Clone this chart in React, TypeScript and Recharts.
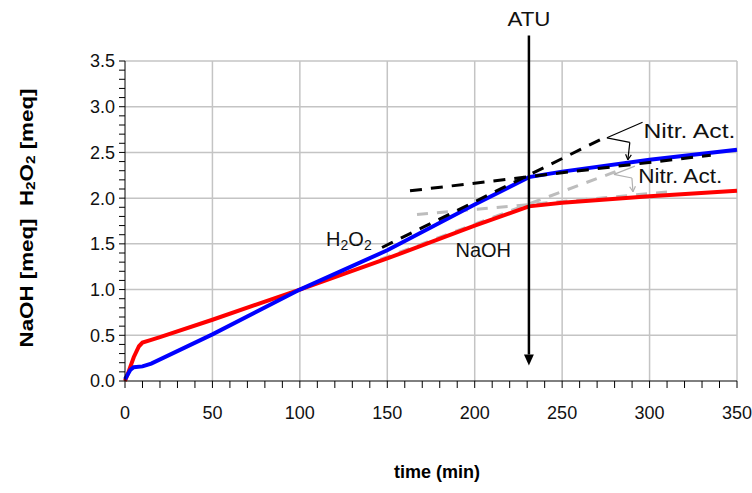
import React from 'react';
import { LineChart, Line, XAxis, YAxis, CartesianGrid, ReferenceLine, ReferenceDot, Label } from 'recharts';

// measured series (time in min, meq)
const naoh = [
  { t: 0, v: 0 }, { t: 2, v: 0.1 }, { t: 5, v: 0.26 }, { t: 8, v: 0.38 }, { t: 10, v: 0.42 },
  { t: 15, v: 0.45 }, { t: 20, v: 0.48 }, { t: 50, v: 0.67 }, { t: 100, v: 1.0 },
  { t: 150, v: 1.34 }, { t: 200, v: 1.7 }, { t: 231, v: 1.91 }, { t: 250, v: 1.95 },
  { t: 300, v: 2.02 }, { t: 350, v: 2.08 },
];
const h2o2 = [
  { t: 0, v: 0.02 }, { t: 3, v: 0.12 }, { t: 5, v: 0.15 }, { t: 10, v: 0.16 }, { t: 15, v: 0.19 },
  { t: 50, v: 0.51 }, { t: 100, v: 1.0 }, { t: 150, v: 1.43 }, { t: 200, v: 1.93 },
  { t: 231, v: 2.23 }, { t: 250, v: 2.29 }, { t: 300, v: 2.42 }, { t: 350, v: 2.53 },
];

// tangent lines before / after ATU
const h2o2After = [{ t: 163, v: 2.08 }, { t: 335, v: 2.47 }];
const h2o2Before = [{ t: 147, v: 1.46 }, { t: 274, v: 2.66 }];
const naohAfter = [{ t: 167, v: 1.82 }, { t: 312, v: 2.07 }];
const naohBefore = [{ t: 146, v: 1.33 }, { t: 282, v: 2.3 }];

const xTicks = [0, 10, 20, 30, 40, 50, 60, 70, 80, 90, 100, 110, 120, 130, 140, 150, 160, 170, 180,
  190, 200, 210, 220, 230, 240, 250, 260, 270, 280, 290, 300, 310, 320, 330, 340, 350];
const yTicks = [0, 0.1, 0.2, 0.3, 0.4, 0.5, 0.6, 0.7, 0.8, 0.9, 1.0, 1.1, 1.2, 1.3, 1.4, 1.5, 1.6,
  1.7, 1.8, 1.9, 2.0, 2.1, 2.2, 2.3, 2.4, 2.5, 2.6, 2.7, 2.8, 2.9, 3.0, 3.1, 3.2, 3.3, 3.4, 3.5];
const xGrid = [50, 100, 150, 200, 250, 300, 350];
const yGrid = [0.5, 1.0, 1.5, 2.0, 2.5, 3.0, 3.5];

const atuTime = 231;
const atuTop = 3.78;
const atuBottom = 0.17;

// pointers of the "Nitr. Act." notes
const upperNote = [[296, 2.83], [275.6, 2.66], [288.7, 2.61], [287.6, 2.42]];
const lowerNote = [[291.6, 2.35], [279.6, 2.26], [289.9, 2.22], [290.5, 2.07]];

const font = '"Liberation Sans", Arial, sans-serif';

const Arrow = (props: any) => {
  const { x1, y1, x2, y2, stroke, w = 2.5, head = 11 } = props;
  const ang = Math.atan2(y2 - y1, x2 - x1);
  const hw = head * 0.45;
  const bx = x2 - head * Math.cos(ang);
  const by = y2 - head * Math.sin(ang);
  const px = -Math.sin(ang) * hw;
  const py = Math.cos(ang) * hw;
  return (
    <g>
      <line x1={x1} y1={y1} x2={bx} y2={by} stroke={stroke} strokeWidth={w} />
      <polygon points={`${x2},${y2} ${bx + px},${by + py} ${bx - px},${by - py}`} fill={stroke} />
    </g>
  );
};

const segShape = (stroke: string, arrow: boolean) => (p: any) => {
  const s = p.segment || [];
  const x1 = p.x1 ?? s[0]?.x, y1 = p.y1 ?? s[0]?.y, x2 = p.x2 ?? s[1]?.x, y2 = p.y2 ?? s[1]?.y;
  if (arrow) {
    const ang = Math.atan2(y2 - y1, x2 - x1);
    const h = 6;
    return (
      <g>
        <line x1={x1} y1={y1} x2={x2} y2={y2} stroke={stroke} strokeWidth={1.2} />
        <line x1={x2} y1={y2} x2={x2 - h * Math.cos(ang - 0.5)} y2={y2 - h * Math.sin(ang - 0.5)} stroke={stroke} strokeWidth={1.2} />
        <line x1={x2} y1={y2} x2={x2 - h * Math.cos(ang + 0.5)} y2={y2 - h * Math.sin(ang + 0.5)} stroke={stroke} strokeWidth={1.2} />
      </g>
    );
  }
  return <line x1={x1} y1={y1} x2={x2} y2={y2} stroke={stroke} strokeWidth={1.2} />;
};

const noteSegments = (pts: number[][], stroke: string, key: string) =>
  pts.slice(1).map((p, i) => (
    <ReferenceLine
      key={`${key}${i}`}
      segment={[{ x: pts[i][0], y: pts[i][1] }, { x: p[0], y: p[1] }]}
      ifOverflow="visible"
      shape={segShape(stroke, i === pts.length - 2)}
    />
  ));

const textShape = (content: React.ReactNode, anchor = 'start', size = 20, len?: number) => (p: any) => (
  <text
    x={p.cx}
    y={p.cy}
    textAnchor={anchor}
    dominantBaseline="central"
    fontFamily={font}
    fontSize={size}
    fill="#111"
    textLength={len}
    lengthAdjust={len ? 'spacingAndGlyphs' : undefined}
  >
    {content}
  </text>
);

const fmtX = (v: number) => (v % 50 === 0 ? String(v) : '');
const fmtY = (v: number) => (Math.round(v * 10) % 5 === 0 ? v.toFixed(1) : '');

const YTitle = () => (
  <text
    x={26}
    y={218}
    transform="rotate(-90 26 218)"
    textAnchor="middle"
    dominantBaseline="central"
    fontFamily={font}
    fontWeight="bold"
    fontSize={19}
    fill="#000"
    textLength={259}
    lengthAdjust="spacingAndGlyphs"
  >
    NaOH [meq]{'\u00a0\u00a0'}H<tspan fontSize={13} dy={4}>2</tspan>
    <tspan dy={-4}>O</tspan>
    <tspan fontSize={13} dy={4}>2</tspan>
    <tspan dy={-4}>{'\u00a0'}[meq]</tspan>
  </text>
);

const XTitle = () => (
  <text x={437} y={472} textAnchor="middle" dominantBaseline="central" fontFamily={font} fontWeight="bold" fontSize={18} fill="#000">
    time (min)
  </text>
);

const tickStyle = { fill: '#111', fontSize: 18, fontFamily: font };

export default function App() {
  return (
    <div style={{ position: 'absolute', left: 0, top: 0, background: '#fff' }}>
      <LineChart width={752} height={493} margin={{ top: 61, right: 15, left: 65, bottom: 72 }}>
        <CartesianGrid
          stroke="#c4c4c4"
          strokeWidth={1.5}
          horizontalValues={yGrid}
          verticalValues={xGrid}
        />
        <XAxis
          dataKey="t"
          type="number"
          domain={[0, 350]}
          ticks={xTicks}
          tickFormatter={fmtX}
          interval={0}
          allowDuplicatedCategory={false}
          height={40}
          tickSize={7}
          tickMargin={18}
          stroke="#000"
          tick={tickStyle}
        >
          <Label content={<XTitle />} />
        </XAxis>
        <YAxis
          type="number"
          domain={[0, 3.5]}
          ticks={yTicks}
          tickFormatter={fmtY}
          interval={0}
          width={60}
          tickSize={6}
          tickMargin={4}
          stroke="#000"
          tick={tickStyle}
        >
          <Label content={<YTitle />} />
        </YAxis>

        <Line type="linear" data={naohBefore} dataKey="v" stroke="#bdbdbd" strokeWidth={3} strokeDasharray="11 9" dot={false} isAnimationActive={false} />
        <Line type="linear" data={naohAfter} dataKey="v" stroke="#bdbdbd" strokeWidth={3} strokeDasharray="11 9" dot={false} isAnimationActive={false} />
        <Line type="linear" data={naoh} dataKey="v" stroke="#ff0000" strokeWidth={4} dot={false} isAnimationActive={false} />
        <Line type="linear" data={h2o2} dataKey="v" stroke="#0000ff" strokeWidth={4} dot={false} isAnimationActive={false} />
        <Line type="linear" data={h2o2Before} dataKey="v" stroke="#000" strokeWidth={3} strokeDasharray="12 9" dot={false} isAnimationActive={false} />
        <Line type="linear" data={h2o2After} dataKey="v" stroke="#000" strokeWidth={3} strokeDasharray="12 9" dot={false} isAnimationActive={false} />

        <ReferenceLine
          segment={[{ x: atuTime, y: atuTop }, { x: atuTime, y: atuBottom }]}
          ifOverflow="visible"
          shape={(p: any) => {
            const s = p.segment || [];
            return <Arrow x1={p.x1 ?? s[0]?.x} y1={p.y1 ?? s[0]?.y} x2={p.x2 ?? s[1]?.x} y2={p.y2 ?? s[1]?.y} stroke="#000" />;
          }}
        />
        {noteSegments(upperNote, '#000', 'u')}
        {noteSegments(lowerNote, '#b0b0b0', 'l')}

        <ReferenceDot x={atuTime} y={3.96} r={0} ifOverflow="visible" shape={textShape('ATU', 'middle', 20, 43)} />
        <ReferenceDot x={296.5} y={2.73} r={0} ifOverflow="visible" shape={textShape('Nitr. Act.', 'start', 20, 92)} />
        <ReferenceDot x={293.5} y={2.24} r={0} ifOverflow="visible" shape={textShape('Nitr. Act.', 'start', 20, 84)} />
        <ReferenceDot x={115} y={1.55} r={0} ifOverflow="visible" shape={textShape(
          <>H<tspan fontSize={14} dy={6}>2</tspan><tspan dy={-6}>O</tspan><tspan fontSize={14} dy={6}>2</tspan></>
        )} />
        <ReferenceDot x={189} y={1.43} r={0} ifOverflow="visible" shape={textShape('NaOH')} />
      </LineChart>
    </div>
  );
}
